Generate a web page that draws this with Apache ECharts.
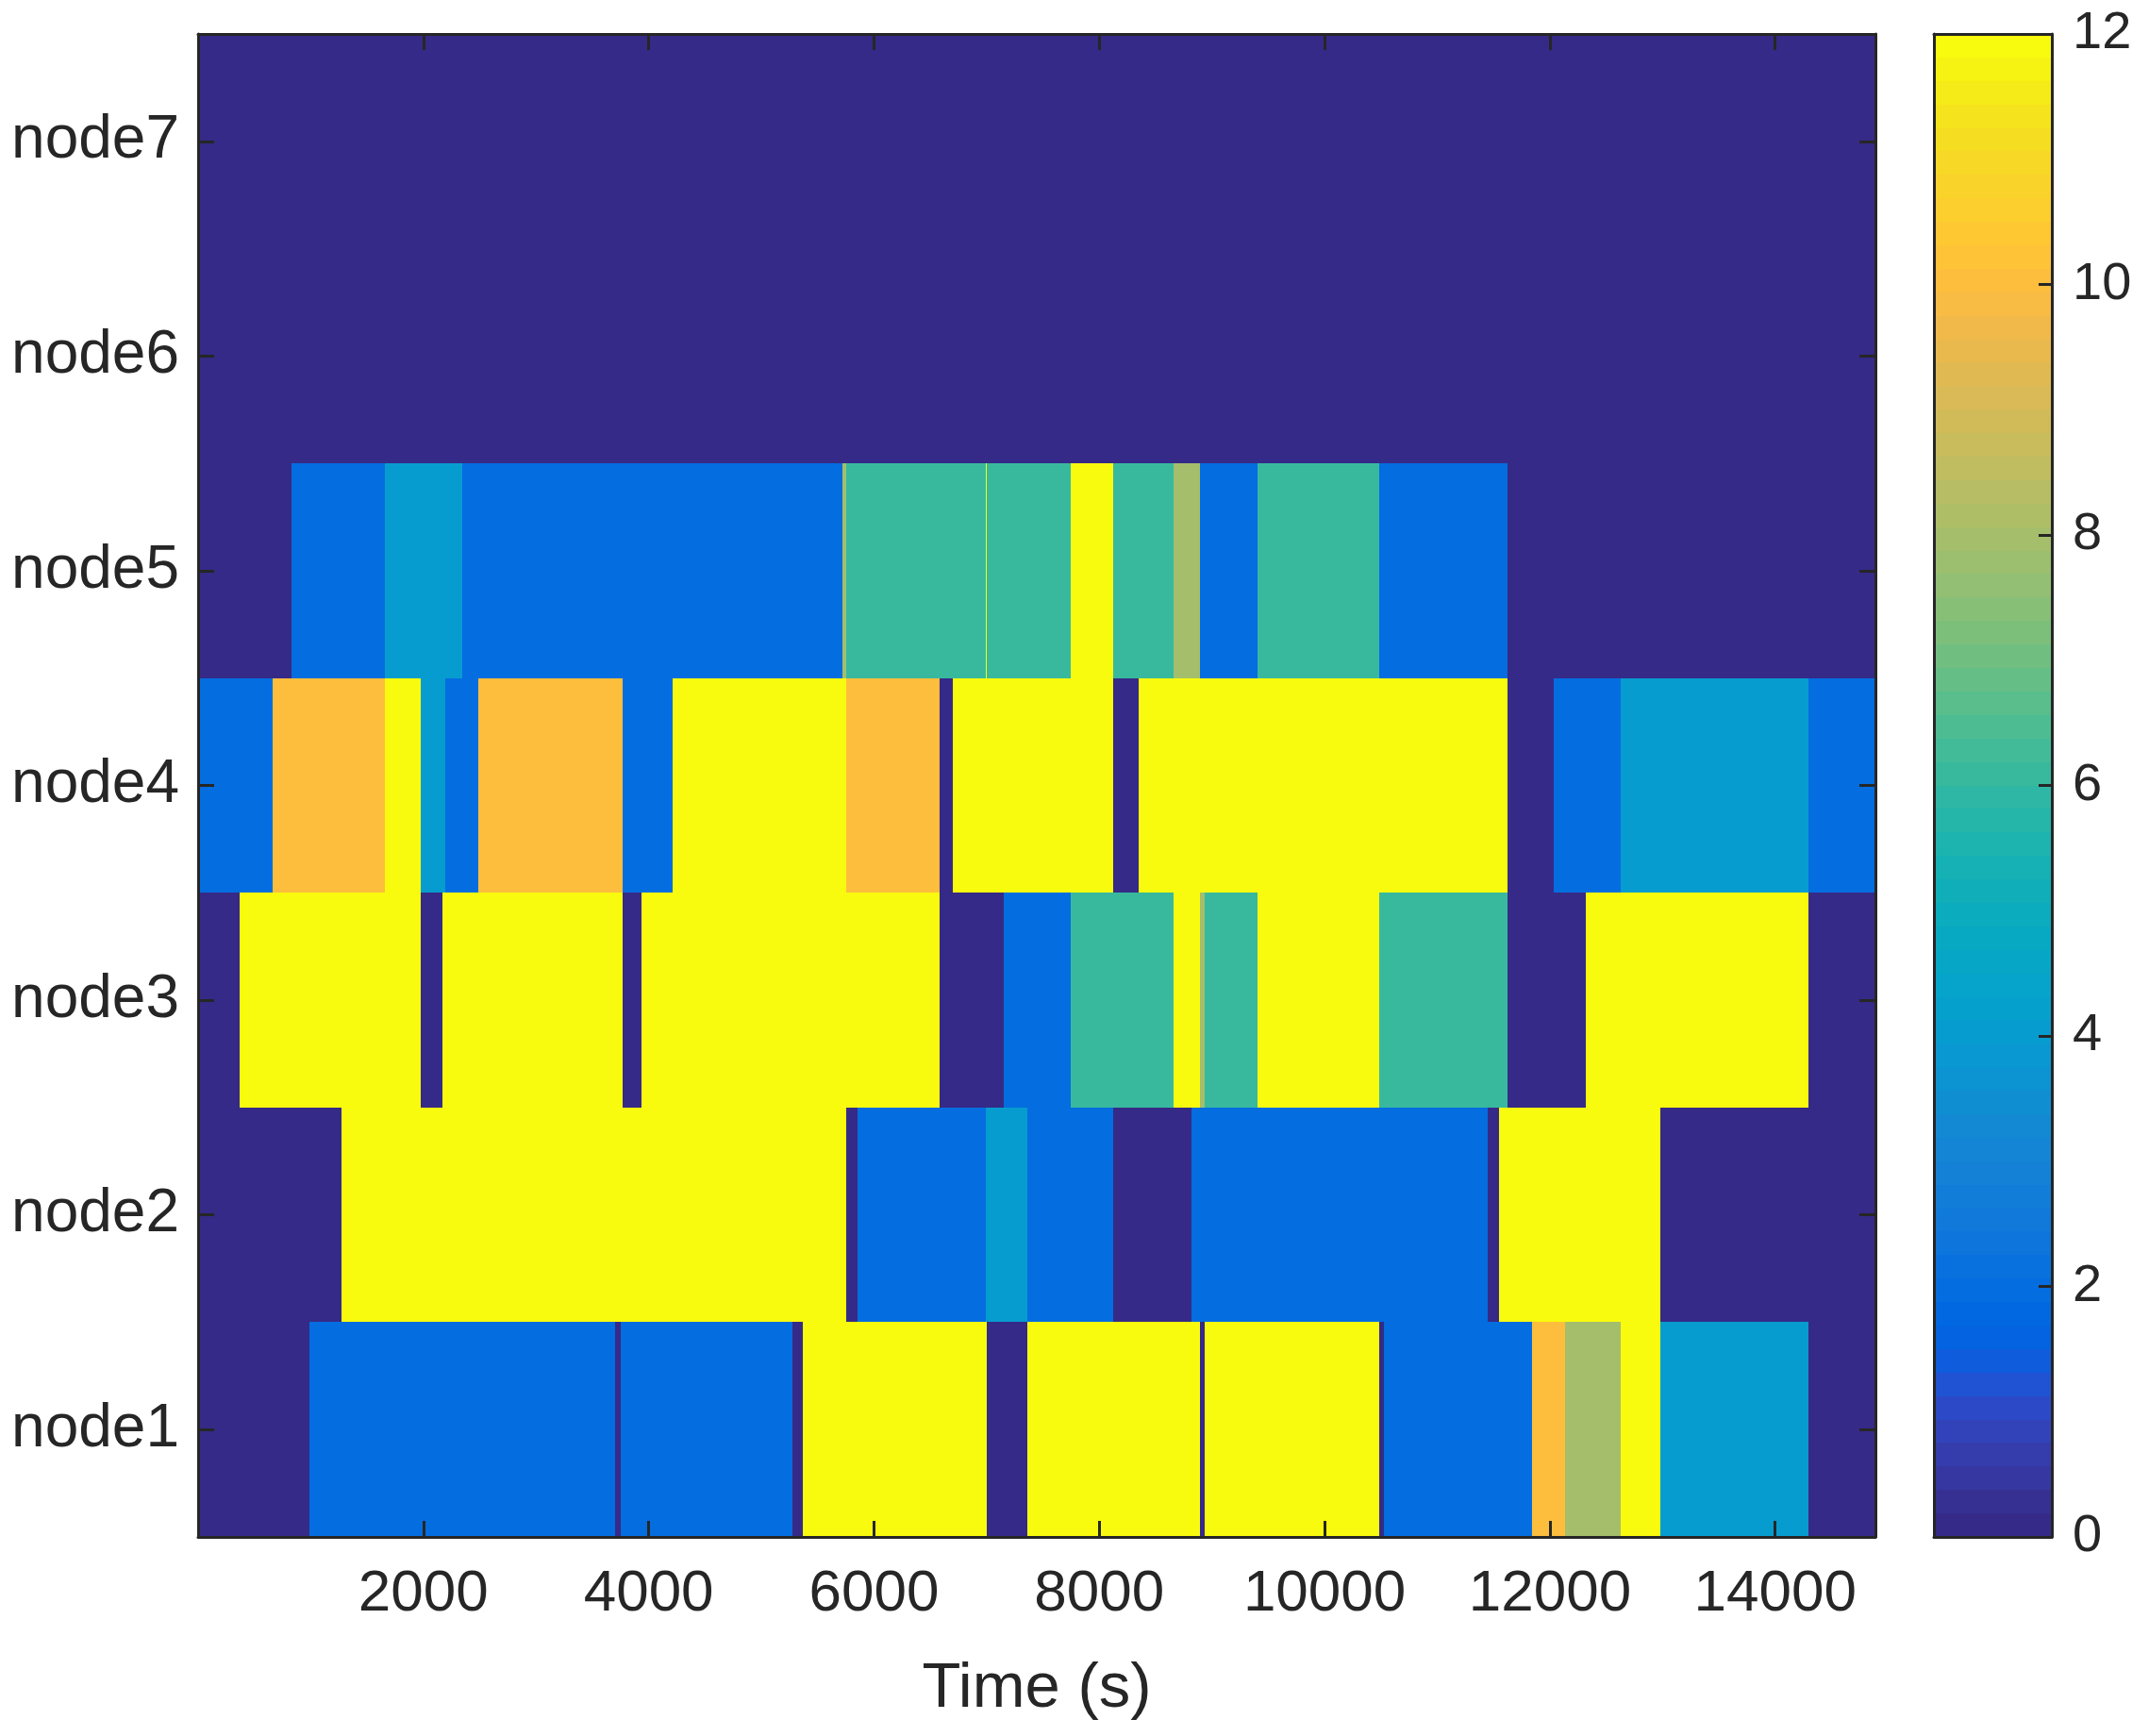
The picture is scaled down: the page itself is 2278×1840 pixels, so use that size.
<!DOCTYPE html>
<html>
<head>
<meta charset="utf-8">
<script src="https://cdn.jsdelivr.net/npm/echarts@6/dist/echarts.min.js"></script>
<style>
  html, body { margin: 0; padding: 0; background: #ffffff; }
  #chart { width: 2278px; height: 1840px; }
</style>
</head>
<body>
<div id="chart"></div>
<script>
// row names, bottom to top
const nodeNames = ['node1', 'node2', 'node3', 'node4', 'node5', 'node6', 'node7']

// time range (s)
const timeMin = 0
const timeMax = 14890
const timeTicks = [2000, 4000, 6000, 8000, 10000, 12000, 14000]

// each row: segment edges (s) and the value held between two edges
const node1Edges = [0, 990, 3700, 3753, 5277, 5368, 7002, 7362, 8893, 8936, 10483, 10527, 11838, 12131, 12626, 12978, 14294, 14890]
const node1Values = [0, 2, 0, 2, 0, 12, 0, 12, 0, 12, 0, 2, 10, 8, 12, 4, 0]

const node2Edges = [0, 1274, 5752, 5853, 6992, 7362, 8124, 8816, 11444, 11545, 12978, 14890]
const node2Values = [0, 12, 0, 2, 4, 2, 0, 2, 0, 12, 0]

const node3Edges = [0, 371, 1980, 2172, 3768, 3936, 6584, 7151, 7745, 8657, 8893, 8936, 9402, 10483, 11622, 12319, 14294, 14890]
const node3Values = [0, 12, 0, 12, 0, 12, 0, 2, 6, 12, 8, 6, 12, 6, 0, 12, 0]

const node4Edges = [0, 664, 1658, 1980, 2197, 2490, 3768, 4215, 5752, 6584, 6699, 8124, 8350, 11622, 12031, 12626, 14294, 14890]
const node4Values = [2, 10, 12, 4, 2, 10, 2, 12, 10, 0, 12, 0, 12, 0, 2, 4, 2]

const node5Edges = [0, 831, 1658, 2346, 5719, 5752, 6992, 7005, 7745, 8124, 8657, 8893, 9402, 10483, 11622, 14890]
const node5Values = [0, 2, 4, 2, 8, 6, 12, 6, 12, 6, 8, 2, 6, 2, 0]

const node6Edges = [0, 14890]
const node6Values = [0]

const node7Edges = [0, 14890]
const node7Values = [0]

// colour scale
const colorMin = 0
const colorMax = 12
const colorTicks = [0, 2, 4, 6, 8, 10, 12]

// parula, 64 levels
const PARULA = [
  [0.2081, 0.1663, 0.5292], [0.2116, 0.1898, 0.5777], [0.2123, 0.2138, 0.6270], [0.2081, 0.2386, 0.6771],
  [0.1959, 0.2645, 0.7279], [0.1707, 0.2919, 0.7792], [0.1253, 0.3242, 0.8303], [0.0591, 0.3598, 0.8683],
  [0.0117, 0.3875, 0.8820], [0.0060, 0.4086, 0.8828], [0.0165, 0.4266, 0.8786], [0.0329, 0.4430, 0.8720],
  [0.0498, 0.4586, 0.8641], [0.0629, 0.4737, 0.8554], [0.0723, 0.4887, 0.8467], [0.0779, 0.5040, 0.8384],
  [0.0793, 0.5200, 0.8312], [0.0749, 0.5375, 0.8263], [0.0641, 0.5570, 0.8240], [0.0488, 0.5772, 0.8228],
  [0.0343, 0.5966, 0.8199], [0.0265, 0.6137, 0.8135], [0.0239, 0.6287, 0.8038], [0.0231, 0.6418, 0.7913],
  [0.0228, 0.6535, 0.7768], [0.0267, 0.6642, 0.7607], [0.0384, 0.6743, 0.7436], [0.0590, 0.6838, 0.7254],
  [0.0843, 0.6928, 0.7062], [0.1133, 0.7015, 0.6859], [0.1453, 0.7098, 0.6646], [0.1801, 0.7177, 0.6424],
  [0.2178, 0.7250, 0.6193], [0.2586, 0.7317, 0.5954], [0.3022, 0.7376, 0.5712], [0.3482, 0.7424, 0.5473],
  [0.3953, 0.7459, 0.5244], [0.4420, 0.7481, 0.5033], [0.4871, 0.7491, 0.4840], [0.5300, 0.7491, 0.4661],
  [0.5709, 0.7485, 0.4494], [0.6099, 0.7473, 0.4337], [0.6473, 0.7456, 0.4188], [0.6834, 0.7435, 0.4044],
  [0.7184, 0.7411, 0.3905], [0.7525, 0.7384, 0.3768], [0.7858, 0.7356, 0.3633], [0.8185, 0.7327, 0.3498],
  [0.8507, 0.7299, 0.3360], [0.8824, 0.7274, 0.3217], [0.9139, 0.7258, 0.3063], [0.9450, 0.7261, 0.2886],
  [0.9739, 0.7314, 0.2666], [0.9938, 0.7455, 0.2403], [0.9990, 0.7653, 0.2164], [0.9955, 0.7861, 0.1967],
  [0.9880, 0.8066, 0.1794], [0.9789, 0.8271, 0.1633], [0.9697, 0.8481, 0.1475], [0.9626, 0.8705, 0.1309],
  [0.9589, 0.8949, 0.1132], [0.9598, 0.9218, 0.0948], [0.9661, 0.9514, 0.0755], [0.9763, 0.9831, 0.0538]
]

const INK = '#262626'
const FONT = '"Liberation Sans", Arial, Helvetica, sans-serif'

const toRgb = (c) => 'rgb(' + c.map(v => Math.round(v * 255)).join(',') + ')'

// same rule as matlab: value -> one of the 64 colours
const colorOf = (v) => {
  const n = PARULA.length
  let idx = Math.floor((v - colorMin) / (colorMax - colorMin) * n)
  idx = Math.max(0, Math.min(n - 1, idx))
  return toRgb(PARULA[idx])
}

// build [start, end, row, value] items
const rows = [
  [node1Edges, node1Values],
  [node2Edges, node2Values],
  [node3Edges, node3Values],
  [node4Edges, node4Values],
  [node5Edges, node5Values],
  [node6Edges, node6Values],
  [node7Edges, node7Values]
]
const segments = []
rows.forEach(([edges, values], r) => {
  values.forEach((v, i) => {
    segments.push([edges[i], edges[i + 1], r, v])
  })
})

// one bar of the map
const renderSegment = (params, api) => {
  const row = api.value(2)
  const p0 = api.coord([api.value(0), row])
  const p1 = api.coord([api.value(1), row])
  const h = api.size([0, 1])[1]
  const x0 = Math.round(p0[0])
  let x1 = Math.round(p1[0])
  if (x1 <= x0) x1 = x0 + 1
  const y0 = Math.round(p0[1] - h / 2)
  const y1 = Math.round(p0[1] + h / 2)
  return {
    type: 'rect',
    shape: { x: x0, y: y0, width: x1 - x0, height: y1 - y0 },
    style: { fill: colorOf(api.value(3)) }
  }
}

// colour bar, drawn as 64 bands
const renderColorbar = (params, api) => {
  const lo = api.value(0)
  const hi = api.value(1)
  const n = PARULA.length
  const children = []
  for (let i = 0; i < n; i++) {
    const a = lo + (hi - lo) * i / n
    const b = lo + (hi - lo) * (i + 1) / n
    const pa = api.coord([0, a])
    const pb = api.coord([1, b])
    const ya = Math.round(pa[1])
    const yb = Math.round(pb[1])
    children.push({
      type: 'rect',
      shape: { x: pa[0], y: yb, width: pb[0] - pa[0], height: ya - yb },
      style: { fill: toRgb(PARULA[i]) }
    })
  }
  return { type: 'group', children }
}

const lineStyle = { color: INK, width: 3 }

const chart = echarts.init(document.getElementById('chart'))

chart.setOption({
  animation: false,
  backgroundColor: '#ffffff',
  textStyle: { fontFamily: FONT, color: INK },
  grid: [
    { left: 210, top: 36, width: 1778, height: 1593 },
    { left: 2050, top: 36, width: 125, height: 1593 }
  ],
  xAxis: [
    {
      gridIndex: 0,
      type: 'value',
      min: timeMin,
      max: timeMax,
      interval: 2000,
      z: 10,
      name: 'Time (s)',
      nameLocation: 'middle',
      nameGap: 128,
      nameTextStyle: { fontSize: 67, color: INK, fontFamily: FONT },
      axisLine: { show: true, onZero: false, lineStyle },
      axisTick: { show: true, inside: true, length: 17, lineStyle },
      axisLabel: {
        show: true,
        margin: 30,
        fontSize: 62,
        color: INK,
        fontFamily: FONT,
        formatter: (v) => (timeTicks.includes(v) ? String(v) : '')
      },
      splitLine: { show: false }
    },
    {
      gridIndex: 0,
      type: 'value',
      position: 'top',
      min: timeMin,
      max: timeMax,
      interval: 2000,
      z: 10,
      axisLine: { show: true, onZero: false, lineStyle },
      axisTick: { show: true, inside: true, length: 17, lineStyle },
      axisLabel: { show: false },
      splitLine: { show: false }
    },
    {
      gridIndex: 1,
      type: 'value',
      min: 0,
      max: 1,
      z: 10,
      axisLine: { show: true, onZero: false, lineStyle },
      axisTick: { show: false },
      axisLabel: { show: false },
      splitLine: { show: false }
    },
    {
      gridIndex: 1,
      type: 'value',
      position: 'top',
      min: 0,
      max: 1,
      z: 10,
      axisLine: { show: true, onZero: false, lineStyle },
      axisTick: { show: false },
      axisLabel: { show: false },
      splitLine: { show: false }
    }
  ],
  yAxis: [
    {
      gridIndex: 0,
      type: 'category',
      data: nodeNames,
      z: 10,
      axisLine: { show: true, onZero: false, lineStyle },
      axisTick: { show: true, inside: true, length: 17, alignWithLabel: true, lineStyle },
      axisLabel: { show: true, margin: 20, fontSize: 64, color: INK, fontFamily: FONT },
      splitLine: { show: false }
    },
    {
      gridIndex: 0,
      type: 'category',
      data: nodeNames,
      position: 'right',
      z: 10,
      axisLine: { show: true, onZero: false, lineStyle },
      axisTick: { show: true, inside: true, length: 17, alignWithLabel: true, lineStyle },
      axisLabel: { show: false },
      splitLine: { show: false }
    },
    {
      gridIndex: 1,
      type: 'value',
      position: 'right',
      min: colorMin,
      max: colorMax,
      interval: 2,
      z: 10,
      axisLine: { show: true, onZero: false, lineStyle },
      axisTick: { show: true, inside: true, length: 14, lineStyle },
      axisLabel: {
        show: true,
        margin: 22,
        fontSize: 56,
        color: INK,
        fontFamily: FONT,
        formatter: (v) => (colorTicks.includes(v) ? String(v) : '')
      },
      splitLine: { show: false }
    },
    {
      gridIndex: 1,
      type: 'value',
      position: 'left',
      min: colorMin,
      max: colorMax,
      z: 10,
      axisLine: { show: true, onZero: false, lineStyle },
      axisTick: { show: false },
      axisLabel: { show: false },
      splitLine: { show: false }
    }
  ],
  series: [
    {
      type: 'custom',
      name: 'nodes',
      xAxisIndex: 0,
      yAxisIndex: 0,
      clip: true,
      dimensions: ['start', 'end', 'row', 'value'],
      encode: { x: [0, 1], y: 2 },
      renderItem: renderSegment,
      data: segments
    },
    {
      type: 'custom',
      name: 'colorbar',
      xAxisIndex: 2,
      yAxisIndex: 2,
      dimensions: ['lo', 'hi'],
      encode: { y: [0, 1] },
      renderItem: renderColorbar,
      data: [[colorMin, colorMax]]
    }
  ]
})
</script>
</body>
</html>
